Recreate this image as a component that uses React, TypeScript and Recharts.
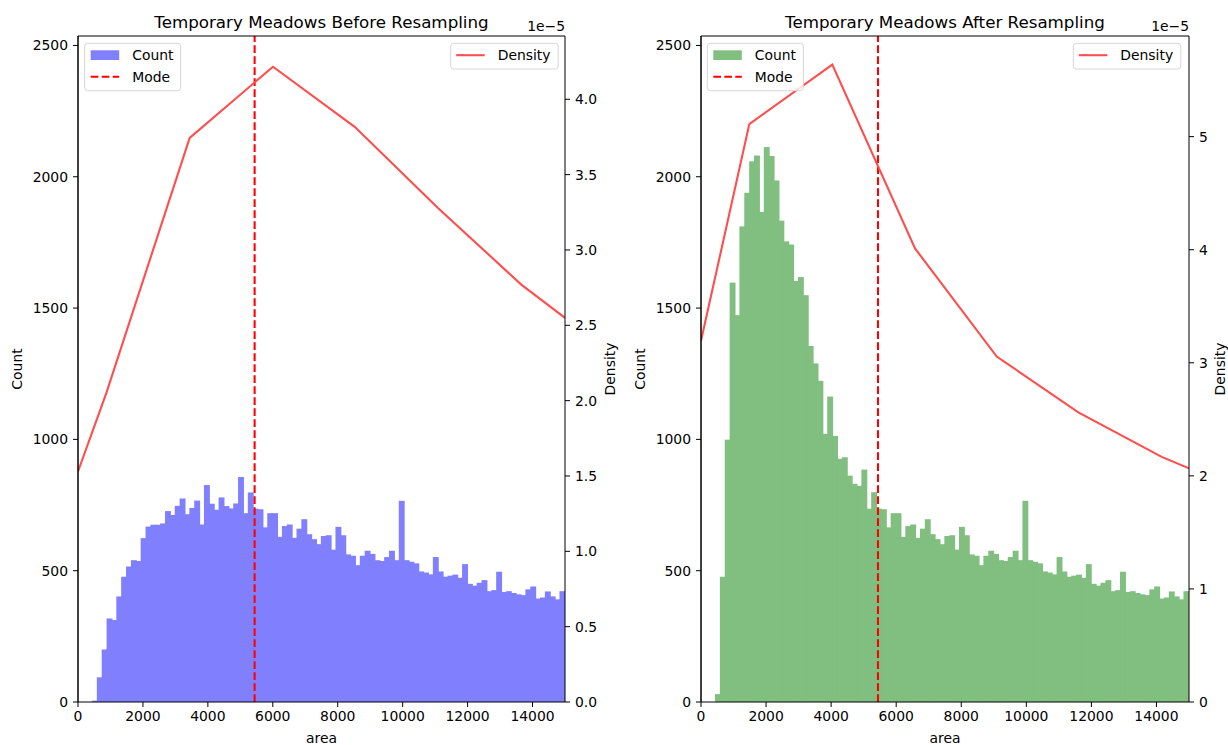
import React from 'react';
import { ComposedChart, Bar, Line, XAxis, YAxis, ReferenceLine } from 'recharts';

// ---------- data ----------
const BIN_START = 430;
const BIN_WIDTH = 150;

const countsBefore = [
  5, 94, 200, 318, 312, 402, 477, 516, 540, 537,
  624, 668, 675, 675, 680, 727, 712, 747, 775, 715,
  739, 767, 676, 826, 755, 732, 779, 746, 737, 756,
  857, 719, 798, 736, 734, 665, 719, 719, 629, 670,
  676, 625, 660, 696, 639, 620, 601, 632, 635, 580,
  667, 635, 562, 557, 521, 557, 576, 564, 540, 537,
  552, 576, 540, 766, 540, 534, 528, 497, 493, 486,
  552, 497, 477, 481, 485, 473, 525, 450, 443, 454,
  464, 422, 426, 496, 419, 422, 415, 410, 407, 429,
  440, 394, 398, 421, 402, 391, 422, 420,
];

const countsAfter = [
  30, 477, 999, 1597, 1473, 1811, 1939, 2059, 2081, 1866,
  2113, 2079, 1986, 1833, 1754, 1742, 1603, 1618, 1549, 1356,
  1289, 1223, 1021, 1163, 1013, 926, 932, 862, 831, 823,
  885, 736, 799, 736, 734, 665, 719, 719, 629, 670,
  676, 625, 660, 696, 639, 620, 601, 632, 635, 580,
  667, 635, 562, 557, 521, 557, 576, 564, 540, 537,
  552, 576, 540, 766, 540, 534, 528, 497, 493, 486,
  552, 497, 477, 481, 485, 473, 525, 450, 443, 454,
  464, 422, 426, 496, 419, 422, 415, 410, 407, 429,
  440, 394, 398, 421, 402, 391, 422, 420,
];

// density in units of 1e-5
const densityBeforeX = [0, 872, 3440, 6006, 8522, 11087, 13653, 15000];
const densityBeforeY = [1.53, 2.05, 3.744, 4.216, 3.817, 3.279, 2.77, 2.549];
const densityAfterX = [0, 1485, 4036, 6579, 9090, 11599, 14162, 15000];
const densityAfterY = [3.194, 5.111, 5.637, 4.011, 3.055, 2.562, 2.168, 2.067];

const modeBefore = 5440;
const modeAfter = 5440;

const xTicks = [0, 2000, 4000, 6000, 8000, 10000, 12000, 14000];
const countTicks = [0, 500, 1000, 1500, 2000, 2500];
const densTicksBefore = [0, 0.5, 1, 1.5, 2, 2.5, 3, 3.5, 4];
const densTicksAfter = [0, 1, 2, 3, 4, 5];

const titles = ['Temporary Meadows Before Resampling', 'Temporary Meadows After Resampling'];

// ---------- styling ----------
const FONT = 'DejaVu Sans, sans-serif';
const FS = 13.9;
const W = 614;
const H = 745;
const PLOT_TOP = 36;
const PLOT_BOTTOM = 702;
const COUNT_MAX = 2536;
const DENS_COLOR = '#ff4d4d';
const MODE_DASH = '7.7 3.3';

const tickStyle = { fontSize: FS, fontFamily: FONT, fill: '#000' };

type PanelProps = {
  pageLeft: number;
  plotLeft: number;
  plotRight: number;
  counts: number[];
  fill: string;
  densX: number[];
  densY: number[];
  densMax: number;
  densTicks: number[];
  densFmt: (v: number) => string;
  mode: number;
};

function Panel(p: PanelProps) {
  const barData = p.counts.map((c, i) => ({ x: BIN_START + BIN_WIDTH * (i + 0.5), count: c }));
  const lineData = p.densX.map((x, i) => ({ x, d: p.densY[i] }));
  const localLeft = p.plotLeft - p.pageLeft;
  const localRight = p.plotRight - p.pageLeft;
  const leftAxisW = 60;
  const rightAxisW = 30;
  const xAxisH = 30;
  const margin = {
    top: PLOT_TOP,
    bottom: H - PLOT_BOTTOM - xAxisH,
    left: localLeft - leftAxisW,
    right: W - localRight - rightAxisW,
  };
  const shape = (props: any) => {
    const { x, y, width, height } = props;
    if (!height || height <= 0) return <g />;
    return <rect x={x} y={y} width={width + 0.9} height={height} fill={p.fill} />;
  };
  return (
    <div style={{ position: 'absolute', left: p.pageLeft, top: 0, width: W, height: H }}>
      <ComposedChart width={W} height={H} data={barData} margin={margin} barCategoryGap={0} barGap={0}>
        <XAxis
          xAxisId="main"
          dataKey="x"
          type="number"
          domain={[0, 15000]}
          allowDataOverflow
          ticks={xTicks}
          interval={0}
          height={xAxisH}
          tickSize={5}
          tickMargin={4}
          stroke="#000"
          tick={tickStyle}
        />
        <XAxis xAxisId="dens" dataKey="x" type="number" domain={[0, 15000]} allowDataOverflow hide height={0} />
        <YAxis
          yAxisId="count"
          type="number"
          domain={[0, COUNT_MAX]}
          allowDataOverflow
          ticks={countTicks}
          interval={0}
          width={leftAxisW}
          tickSize={5}
          tickMargin={5}
          stroke="#000"
          tick={tickStyle}
        />
        <YAxis
          yAxisId="dens"
          orientation="right"
          type="number"
          domain={[0, p.densMax]}
          allowDataOverflow
          ticks={p.densTicks}
          interval={0}
          width={rightAxisW}
          tickSize={5}
          tickMargin={5}
          stroke="#000"
          tick={tickStyle}
          tickFormatter={p.densFmt}
        />
        <Bar
          xAxisId="main"
          yAxisId="count"
          dataKey="count"
          fill={p.fill}
          shape={shape}
          isAnimationActive={false}
        />
        <ReferenceLine
          xAxisId="main"
          yAxisId="count"
          x={p.mode}
          stroke="#ff0000"
          strokeWidth={2.08}
          strokeDasharray={MODE_DASH}
        />
        <Line
          xAxisId="dens"
          yAxisId="dens"
          data={lineData}
          dataKey="d"
          type="linear"
          stroke={DENS_COLOR}
          strokeWidth={2.08}
          dot={false}
          activeDot={false}
          isAnimationActive={false}
        />
        <ReferenceLine
          xAxisId="main"
          yAxisId="count"
          y={COUNT_MAX}
          stroke="#000"
          strokeWidth={1}
        />
        <ReferenceLine
          xAxisId="main"
          yAxisId="count"
          x={0}
          stroke="#000"
          strokeWidth={1}
        />
      </ComposedChart>
    </div>
  );
}

type LegendProps = { x: number; fill: string; densX: number };

function Legends({ x, fill, densX }: LegendProps) {
  return (
    <g fontFamily={FONT} fontSize={FS} fill="#000">
      <rect x={x} y={43.3} width={96} height={47.4} rx={3} fill="#fff" fillOpacity={0.8} stroke="#d6d6d6" strokeWidth={1} />
      <rect x={x + 6} y={50.3} width={28.5} height={9.7} fill={fill} />
      <text x={x + 47.5} y={60}>Count</text>
      <line x1={x + 6} x2={x + 34.5} y1={76.8} y2={76.8} stroke="#ff0000" strokeWidth={2.08} strokeDasharray={MODE_DASH} />
      <text x={x + 47.5} y={81.8}>Mode</text>
      <rect x={densX} y={43.3} width={107.5} height={25.7} rx={3} fill="#fff" fillOpacity={0.8} stroke="#d6d6d6" strokeWidth={1} />
      <line x1={densX + 5.5} x2={densX + 34} y1={55.2} y2={55.2} stroke={DENS_COLOR} strokeWidth={2.08} />
      <text x={densX + 47} y={60}>Density</text>
    </g>
  );
}

function Overlay() {
  const cy = (PLOT_TOP + PLOT_BOTTOM) / 2;
  return (
    <svg
      width={1228}
      height={745}
      style={{ position: 'absolute', left: 0, top: 0, pointerEvents: 'none' }}
    >
      <g fontFamily={FONT} fill="#000">
        <text x={321.5} y={27.5} fontSize={16.7} textAnchor="middle">{titles[0]}</text>
        <text x={945} y={27.5} fontSize={16.7} textAnchor="middle">{titles[1]}</text>
        <text x={565} y={31} fontSize={FS} textAnchor="end">1e−5</text>
        <text x={1189} y={31} fontSize={FS} textAnchor="end">1e−5</text>
        <text x={321.5} y={743} fontSize={FS} textAnchor="middle">area</text>
        <text x={945} y={743} fontSize={FS} textAnchor="middle">area</text>
        <text x={17} y={cy} fontSize={FS} textAnchor="middle" dominantBaseline="central" transform={`rotate(-90 17 ${cy})`}>Count</text>
        <text x={640} y={cy} fontSize={FS} textAnchor="middle" dominantBaseline="central" transform={`rotate(-90 640 ${cy})`}>Count</text>
        <text x={610} y={cy} fontSize={FS} textAnchor="middle" dominantBaseline="central" transform={`rotate(-90 610 ${cy})`}>Density</text>
        <text x={1220} y={cy} fontSize={FS} textAnchor="middle" dominantBaseline="central" transform={`rotate(-90 1220 ${cy})`}>Density</text>
      </g>
      <Legends x={84.7} fill="#8080ff" densX={450.7} />
      <Legends x={707.3} fill="#80bf80" densX={1073.3} />
    </svg>
  );
}

export default function App() {
  return (
    <div style={{ position: 'absolute', left: 0, top: 0, width: 1228, height: 745, background: '#fff', overflow: 'hidden' }}>
      <Panel
        pageLeft={0}
        plotLeft={78}
        plotRight={565}
        counts={countsBefore}
        fill="#8080ff"
        densX={densityBeforeX}
        densY={densityBeforeY}
        densMax={4.42}
        densTicks={densTicksBefore}
        densFmt={(v) => v.toFixed(1)}
        mode={modeBefore}
      />
      <Panel
        pageLeft={614}
        plotLeft={701}
        plotRight={1189}
        counts={countsAfter}
        fill="#80bf80"
        densX={densityAfterX}
        densY={densityAfterY}
        densMax={5.89}
        densTicks={densTicksAfter}
        densFmt={(v) => String(v)}
        mode={modeAfter}
      />
      <Overlay />
    </div>
  );
}
